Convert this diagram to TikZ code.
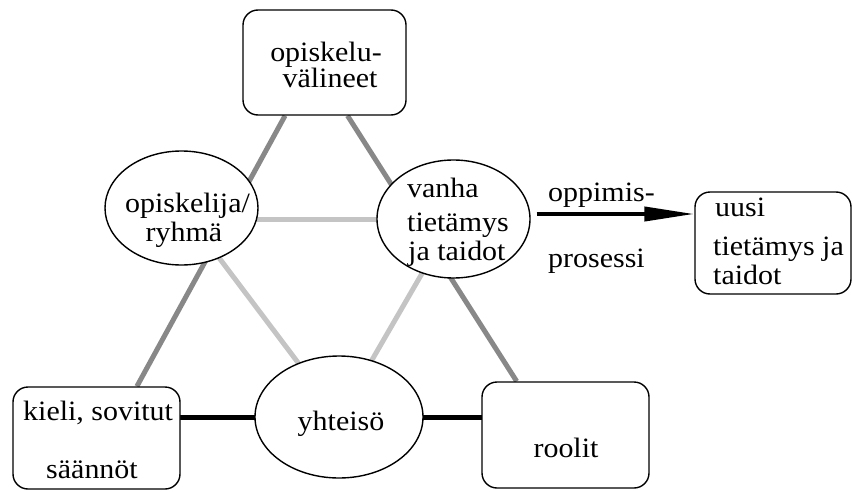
\documentclass[tikz,border=0pt]{standalone}
\usepackage{fontspec}
\setmainfont{Liberation Serif}[FakeStretch=1.07]
\usetikzlibrary{arrows.meta,calc,backgrounds,shapes.geometric}
\definecolor{outergray}{HTML}{888888}
\definecolor{innergray}{HTML}{C4C4C4}
\tikzset{
  rbox/.style={draw, fill=white, line width=1.4pt, rounded corners=15pt, inner sep=0pt},
  oval/.style={draw, fill=white, line width=1.4pt, ellipse, inner sep=0pt},
  txt/.style={inner sep=0pt, font=\fontsize{28}{30}\selectfont},
  outerline/.style={line width=5pt, outergray},
  innerline/.style={line width=5pt, innergray},
  blackline/.style={line width=5pt, black},
  procarrow/.style={line width=4pt, -{Triangle[length=50pt, width=14pt]}}
}
\begin{document}
\begin{tikzpicture}[x=1pt, y=-1pt]
\useasboundingbox (0,0) rectangle (853,492);
% shapes
\node[rbox, minimum width=163pt, minimum height=105pt] (top) at (324.5,62.5) {};
\node[rbox, minimum width=167pt, minimum height=102pt] (kieli) at (96.5,438) {};
\node[rbox, minimum width=167pt, minimum height=106pt] (roolit) at (565.5,435) {};
\node[rbox, minimum width=156pt, minimum height=102pt] (uusi) at (773,243) {};
\node[oval, minimum width=153pt, minimum height=114pt] (opisk) at (181.5,208) {};
\node[oval, minimum width=153pt, minimum height=118pt] (vanha) at (453.5,219) {};
\node[oval, minimum width=168pt, minimum height=122pt] (yht) at (339,417) {};
% texts
\node[txt, anchor=base] (t1) at (326,62) {opiskelu-};
\node[txt, anchor=base] (t2) at (330,88) {välineet};
\node[txt, anchor=base] (t3) at (187.5,212) {opiskelija/};
\node[txt, anchor=base] (t4) at (184,241) {ryhmä};
\node[txt, anchor=base west] (t5) at (407,197) {vanha};
\node[txt, anchor=base west] (t6) at (407,231) {tietämys};
\node[txt, anchor=base west] (t7) at (408,260) {ja taidot};
\node[txt, anchor=base west] (t8) at (548,201) {oppimis-};
\node[txt, anchor=base west] (t9) at (548,267) {prosessi};
\node[txt, anchor=base west] (t10) at (715,216) {uusi};
\node[txt, anchor=base west] (t11) at (713,255) {tietämys ja};
\node[txt, anchor=base west] (t12) at (713,284) {taidot};
\node[txt, anchor=base west] (t13) at (23,420) {kieli, sovitut};
\node[txt, anchor=base] (t14) at (92,478) {säännöt};
\node[txt, anchor=base] (t15) at (341,430) {yhteisö};
\node[txt, anchor=base] (t16) at (566,457) {roolit};
% connectors
\coordinate (topL) at ($(top.south west)!0.26!(top.south east)$);
\coordinate (topR) at ($(top.south west)!0.64!(top.south east)$);
\coordinate (kieliT) at ($(kieli.north west)!0.74!(kieli.north east)$);
\coordinate (roolitT) at ($(roolit.north west)!0.21!(roolit.north east)$);
\coordinate (arrS) at ($(vanha.east)+(6,-5)$);
\begin{pgfonlayer}{background}
\draw[outerline] (topL) -- (kieliT);
\draw[outerline] (topR) -- (roolitT);
\draw[innerline] (opisk.center |- vanha.center) -- (vanha.center);
\draw[innerline] (opisk.center) -- (yht.center);
\draw[innerline] (vanha.center) -- (yht.center);
\draw[blackline] (kieli.center |- yht.center) -- (yht.center);
\draw[blackline] (yht.center) -- (roolit.center |- yht.center);
\end{pgfonlayer}
\draw[procarrow] (arrS) -- (arrS -| uusi.west);
\end{tikzpicture}
\end{document}
